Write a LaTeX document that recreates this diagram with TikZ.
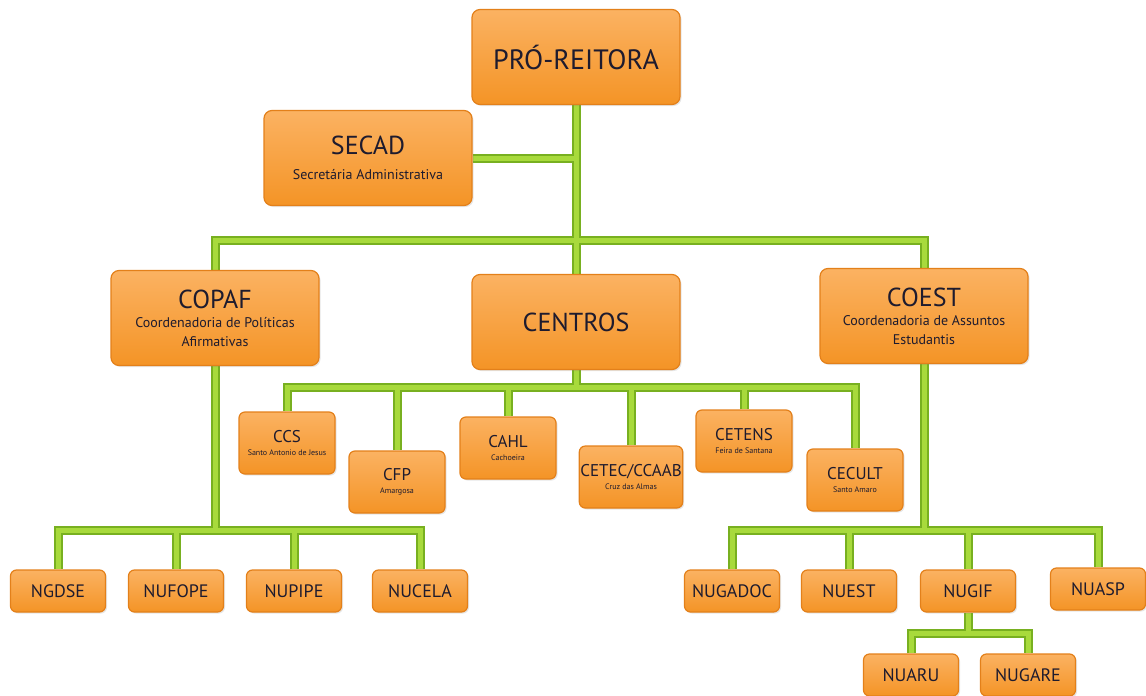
\documentclass[tikz,border=0pt]{standalone}
\usepackage{fontspec}
\setmainfont{PT Sans}
\usetikzlibrary{backgrounds,shadows}
\definecolor{boxtop}{HTML}{FBB262}
\definecolor{boxbot}{HTML}{F49426}
\definecolor{boxedge}{HTML}{E3801A}
\definecolor{txt}{HTML}{1E1B2E}
\definecolor{lnk}{HTML}{A8DA3C}
\definecolor{lnkedge}{HTML}{78B020}
\tikzset{
  box/.style={draw=boxedge, line width=1.2pt, rounded corners=8pt,
    top color=boxtop, bottom color=boxbot, text=txt, align=center,
    inner sep=1pt, drop shadow={opacity=0.2, shadow xshift=1.5pt, shadow yshift=-1.5pt}},
  bigbox/.style={box, minimum width=208pt, minimum height=95pt, font=\fontsize{14}{19}\selectfont},
  cbox/.style={box, minimum width=96pt, minimum height=62pt, rounded corners=6pt, font=\fontsize{8}{11}\selectfont},
  sbox/.style={box, minimum width=95pt, minimum height=42pt, rounded corners=6pt, font=\fontsize{18}{20}\selectfont},
  lnkout/.style={draw=lnkedge, line width=9pt},
  lnkin/.style={draw=lnk, line width=5pt},
}
\newcommand{\ttl}[1]{{\fontsize{26}{28}\selectfont #1}}
\newcommand{\cttl}[1]{{\fontsize{17}{19}\selectfont #1}}
\newcommand{\drawlinks}[1]{%
  \draw[#1] (pro.south) -- (cen.north);
  \draw[#1] (secad.east) -- (secad.east -| pro.south);
  \draw[#1] (copaf.north) |- (j1) -| (coest.north);
  \draw[#1] (cen.south) -- (j2);
  \draw[#1] (ccs.north) |- (j2) -| (cecult.north);
  \draw[#1] (cfp.north) -- (cfp.north |- j2);
  \draw[#1] (cahl.north) -- (cahl.north |- j2);
  \draw[#1] (cetec.north) -- (cetec.north |- j2);
  \draw[#1] (cetens.north) -- (cetens.north |- j2);
  \draw[#1] (copaf.south) -- (j3);
  \draw[#1] (ngdse.north) |- (j3) -| (nucela.north);
  \draw[#1] (nufope.north) -- (nufope.north |- j3);
  \draw[#1] (nupipe.north) -- (nupipe.north |- j3);
  \draw[#1] (coest.south) -- (j4);
  \draw[#1] (nugadoc.north) |- (j4) -| (nuasp.north);
  \draw[#1] (nuest.north) -- (nuest.north |- j4);
  \draw[#1] (nugif.north) -- (nugif.north |- j4);
  \draw[#1] (nugif.south) -- (j5);
  \draw[#1] (nuaru.north) |- (j5) -| (nugare.north);
}
\begin{document}
\begin{tikzpicture}[x=1pt,y=-1pt]
\useasboundingbox (0,0) rectangle (1146,696);
\node[bigbox] (pro) at (576,57) {\fontsize{28}{30}\selectfont PRÓ-REITORA};
\node[bigbox] (secad) at (368,158) {\ttl{SECAD}\\[6pt]Secretária Administrativa};
\node[bigbox] (copaf) at (215,318) {\ttl{COPAF}\\Coordenadoria de Políticas\\Afirmativas};
\node[bigbox] (cen) at (576,322) {\ttl{CENTROS}};
\node[bigbox] (coest) at (924,316) {\ttl{COEST}\\Coordenadoria de Assuntos\\Estudantis};
\node[cbox] (ccs) at (287,443) {\cttl{CCS}\\[2pt]Santo Antonio de Jesus};
\node[cbox] (cfp) at (397,482) {\cttl{CFP}\\[2pt]Amargosa};
\node[cbox] (cahl) at (508,448) {\cttl{CAHL}\\[2pt]Cachoeira};
\node[cbox] (cetec) at (631,477) {\cttl{CETEC/CCAAB}\\[2pt]Cruz das Almas};
\node[cbox] (cetens) at (744,441) {\cttl{CETENS}\\[2pt]Feira de Santana};
\node[cbox] (cecult) at (855,480) {\cttl{CECULT}\\[2pt]Santo Amaro};
\node[sbox] (ngdse) at (58,591) {NGDSE};
\node[sbox] (nufope) at (176,591) {NUFOPE};
\node[sbox] (nupipe) at (294,591) {NUPIPE};
\node[sbox] (nucela) at (420,591) {NUCELA};
\node[sbox] (nugadoc) at (732,591) {NUGADOC};
\node[sbox] (nuest) at (849,591) {NUEST};
\node[sbox] (nugif) at (968,591) {NUGIF};
\node[sbox] (nuasp) at (1098,589) {NUASP};
\node[sbox] (nuaru) at (911,675) {NUARU};
\node[sbox] (nugare) at (1028,675) {NUGARE};
\coordinate (j1) at (576,240);
\coordinate (j2) at (576,387);
\coordinate (j3) at (215,530);
\coordinate (j4) at (924,530);
\coordinate (j5) at (968,633);
\begin{scope}[on background layer]
\drawlinks{lnkout}
\drawlinks{lnkin}
\end{scope}
\end{tikzpicture}
\end{document}
